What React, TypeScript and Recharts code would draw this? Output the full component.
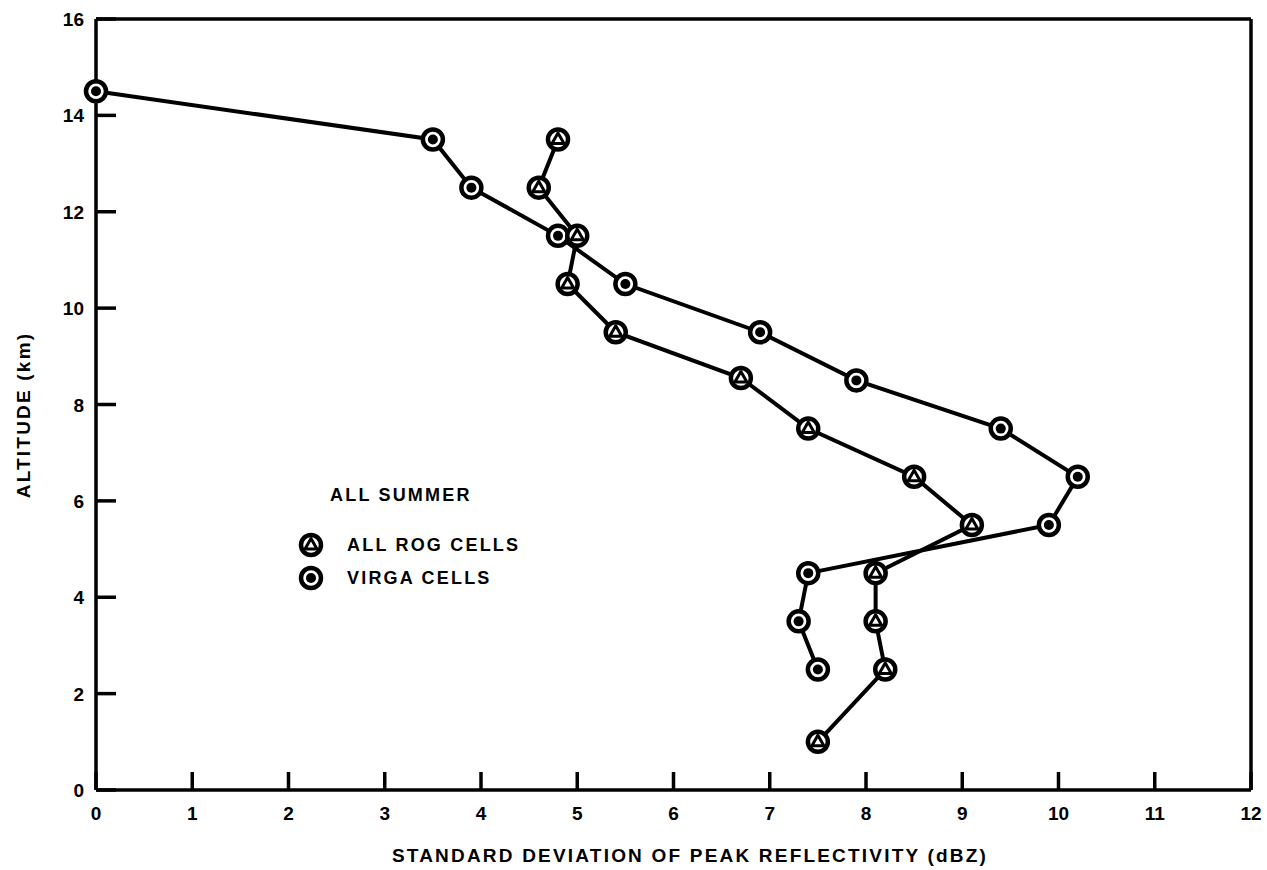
import React from 'react';
import { ScatterChart, Scatter, XAxis, YAxis, ReferenceLine } from 'recharts';

// altitude (km) vs std dev of peak reflectivity (dBZ)
const rogAlt = [13.5, 12.5, 11.5, 10.5, 9.5, 8.55, 7.5, 6.5, 5.5, 4.5, 3.5, 2.5, 1.0];
const rogSd = [4.8, 4.6, 5.0, 4.9, 5.4, 6.7, 7.4, 8.5, 9.1, 8.1, 8.1, 8.2, 7.5];
const virgaAlt = [14.5, 13.5, 12.5, 11.5, 10.5, 9.5, 8.5, 7.5, 6.5, 5.5, 4.5, 3.5, 2.5];
const virgaSd = [0, 3.5, 3.9, 4.8, 5.5, 6.9, 7.9, 9.4, 10.2, 9.9, 7.4, 7.3, 7.5];
const xTicks = [0, 1, 2, 3, 4, 5, 6, 7, 8, 9, 10, 11, 12];
const yTicks = [0, 2, 4, 6, 8, 10, 12, 14, 16];

const rogData = rogAlt.map((y, i) => ({ x: rogSd[i], y }));
const virgaData = virgaAlt.map((y, i) => ({ x: virgaSd[i], y }));

const FONT = '"Liberation Sans", Arial, Helvetica, sans-serif';
const INK = '#000';

function Marker({ cx, cy, kind }: { cx: number; cy: number; kind: 'tri' | 'dot' }) {
  return (
    <g>
      <circle cx={cx} cy={cy} r={10} fill="#fff" stroke={INK} strokeWidth={4.5} />
      {kind === 'dot' ? (
        <circle cx={cx} cy={cy} r={5} fill={INK} />
      ) : (
        <polygon
          points={`${cx},${cy - 6.5} ${cx - 6},${cy + 4} ${cx + 6},${cy + 4}`}
          fill="#fff"
          stroke={INK}
          strokeWidth={3}
          strokeLinejoin="round"
        />
      )}
    </g>
  );
}

// ticks point into the plot, labels sit outside
const XTick = ({ x, y, payload }: any) => (
  <g>
    <line x1={x} y1={y} x2={x} y2={y - 18} stroke={INK} strokeWidth={3.5} />
    <text x={x} y={y + 30} textAnchor="middle" fontFamily={FONT} fontWeight="bold" fontSize={19} fill={INK}>
      {payload.value}
    </text>
  </g>
);

const YTick = ({ x, y, payload }: any) => (
  <g>
    <line x1={x} y1={y} x2={x + 20} y2={y} stroke={INK} strokeWidth={3.5} />
    <text x={x - 12} y={y + 7} textAnchor="end" fontFamily={FONT} fontWeight="bold" fontSize={19} fill={INK}>
      {payload.value}
    </text>
  </g>
);

function LegendMark({ kind }: { kind: 'tri' | 'dot' }) {
  return (
    <svg width={28} height={28} style={{ position: 'absolute', left: -14, top: -14 }}>
      <Marker cx={14} cy={14} kind={kind} />
    </svg>
  );
}

const textStyle: React.CSSProperties = {
  position: 'absolute',
  fontFamily: FONT,
  fontWeight: 'bold',
  color: INK,
  whiteSpace: 'nowrap',
  lineHeight: '20px',
  letterSpacing: '2.2px',
};

export default function App() {
  return (
    <div style={{ position: 'absolute', left: 0, top: 0, width: 1267, height: 870, background: '#fff' }}>
      <ScatterChart width={1267} height={870} margin={{ top: 19, right: 16, bottom: 0, left: 0 }}>
        <XAxis
          type="number"
          dataKey="x"
          domain={[0, 12]}
          ticks={xTicks}
          interval={0}
          height={80}
          tickSize={0}
          tickMargin={0}
          tickLine={false}
          axisLine={{ stroke: INK, strokeWidth: 3.5 }}
          tick={<XTick />}
        />
        <YAxis
          type="number"
          dataKey="y"
          domain={[0, 16]}
          ticks={yTicks}
          interval={0}
          width={96}
          tickSize={0}
          tickMargin={0}
          tickLine={false}
          axisLine={{ stroke: INK, strokeWidth: 3.5 }}
          tick={<YTick />}
        />
        <ReferenceLine y={16} stroke={INK} strokeWidth={3.5} />
        <ReferenceLine x={12} stroke={INK} strokeWidth={3.5} />
        <Scatter
          name="VIRGA CELLS"
          data={virgaData}
          line={{ stroke: INK, strokeWidth: 4 }}
          lineJointType="linear"
          shape={(p: any) => <Marker cx={p.cx} cy={p.cy} kind="dot" />}
          isAnimationActive={false}
        />
        <Scatter
          name="ALL ROG CELLS"
          data={rogData}
          line={{ stroke: INK, strokeWidth: 4 }}
          lineJointType="linear"
          shape={(p: any) => <Marker cx={p.cx} cy={p.cy} kind="tri" />}
          isAnimationActive={false}
        />
      </ScatterChart>

      <div style={{ ...textStyle, fontSize: 19, left: 690, top: 846, transform: 'translateX(-50%)' }}>
        STANDARD DEVIATION OF PEAK REFLECTIVITY (dBZ)
      </div>
      <div
        style={{ ...textStyle, fontSize: 19, left: 24, top: 415, transform: 'translate(-50%, -50%) rotate(-90deg)' }}
      >
        ALTITUDE (km)
      </div>

      <div style={{ ...textStyle, fontSize: 18, left: 330, top: 485 }}>ALL SUMMER</div>
      <div style={{ position: 'absolute', left: 311, top: 545 }}>
        <LegendMark kind="tri" />
      </div>
      <div style={{ ...textStyle, fontSize: 18, left: 347, top: 535 }}>ALL ROG CELLS</div>
      <div style={{ position: 'absolute', left: 311, top: 578 }}>
        <LegendMark kind="dot" />
      </div>
      <div style={{ ...textStyle, fontSize: 18, left: 347, top: 568 }}>VIRGA CELLS</div>
    </div>
  );
}
